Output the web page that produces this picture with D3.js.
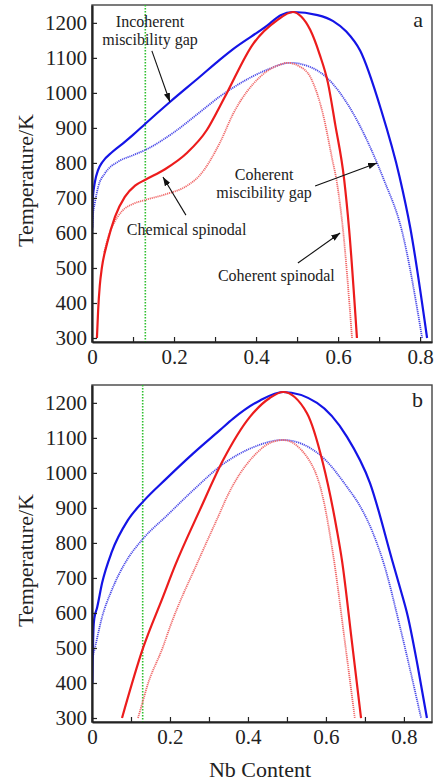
<!DOCTYPE html>
<html>
<head>
<meta charset="utf-8">
<script src="https://cdn.jsdelivr.net/npm/d3@7"></script>
<style>
body{margin:0;background:#fff;}
svg{display:block;}
svg text{font-family:"Liberation Serif","DejaVu Serif","Times New Roman",serif;}
</style>
</head>
<body>
<svg width="436" height="784"></svg>
<script>
// tick values
const yTicks = [300,400,500,600,700,800,900,1000,1100,1200];
const xTicks = [0,0.1,0.2,0.3,0.4,0.5,0.6,0.7,0.8];
const xLabelled = [0,0.2,0.4,0.6,0.8];
const greenX = 0.13;

// panel a : [Nb content, T/K]
const aIncoherent = [[0.0005,615],[0.002,700],[0.007,745],[0.015,780],[0.025,802],[0.05,832],[0.08,860],[0.1,880],[0.13,912],[0.19,974],[0.263,1046],[0.312,1095],[0.344,1125],[0.427,1192],[0.46,1222],[0.49,1231],[0.55,1222],[0.588,1205],[0.62,1175],[0.654,1120],[0.705,951],[0.75,760],[0.776,615],[0.817,300]];
const aCoherentGap = [[0.001,600],[0.002,646],[0.007,686],[0.015,731],[0.032,771],[0.063,803],[0.1,822],[0.13,837],[0.198,886],[0.263,945],[0.312,990],[0.344,1015],[0.427,1066],[0.483,1086],[0.53,1075],[0.573,1043],[0.63,955],[0.695,800],[0.712,751],[0.755,609],[0.805,300]];
const aChemSpinodal = [[0.012,300],[0.015,380],[0.019,450],[0.024,500],[0.037,571],[0.056,646],[0.08,703],[0.105,735],[0.13,752],[0.178,782],[0.232,829],[0.28,894],[0.312,962],[0.329,1000],[0.393,1140],[0.451,1207],[0.49,1231],[0.51,1218],[0.532,1180],[0.555,1110],[0.575,1030],[0.593,910],[0.615,751],[0.627,609],[0.646,300]];
const aCohSpinodal = [[0.03,545],[0.04,590],[0.049,617],[0.073,662],[0.1,683],[0.129,694],[0.178,710],[0.232,735],[0.263,765],[0.312,858],[0.344,940],[0.41,1046],[0.459,1081],[0.476,1086],[0.505,1076],[0.532,1046],[0.563,940],[0.585,815],[0.597,745],[0.612,609],[0.634,300]];

// panel b
const bIncoherent = [[0.001,400],[0.002,480],[0.004,560],[0.006,585],[0.013,615],[0.026,686],[0.051,775],[0.092,865],[0.131,918],[0.192,985],[0.259,1055],[0.328,1122],[0.362,1155],[0.431,1207],[0.49,1231],[0.577,1200],[0.654,1103],[0.713,971],[0.77,750],[0.79,672],[0.81,590],[0.835,450],[0.859,300]];
const bCoherentGap = [[0.001,470],[0.008,503],[0.026,589],[0.051,666],[0.085,743],[0.131,812],[0.192,878],[0.259,950],[0.336,1025],[0.413,1073],[0.49,1094],[0.585,1051],[0.654,960],[0.69,900],[0.72,830],[0.75,735],[0.79,560],[0.844,300]];
const bChemSpinodal = [[0.077,300],[0.131,500],[0.182,646],[0.213,735],[0.277,895],[0.336,1036],[0.405,1160],[0.456,1214],[0.49,1231],[0.551,1171],[0.592,1029],[0.628,837],[0.641,751],[0.667,514],[0.69,300]];
const bCohSpinodal = [[0.118,300],[0.131,350],[0.141,389],[0.182,503],[0.2,560],[0.277,760],[0.328,886],[0.346,931],[0.413,1046],[0.464,1089],[0.49,1094],[0.551,1046],[0.592,931],[0.62,755],[0.649,514],[0.674,300]];

const svg = d3.select("svg");
const serif = '"Liberation Serif","DejaVu Serif","Times New Roman",serif';

svg.append("defs").append("marker")
	.attr("id","arr")
	.attr("markerUnits","userSpaceOnUse")
	.attr("viewBox","0 0 10 7")
	.attr("markerWidth",9).attr("markerHeight",6.5)
	.attr("refX",10).attr("refY",3.5)
	.attr("orient","auto")
	.append("path").attr("d","M0,0L10,3.5L0,7z").attr("fill","#111");

const styles = {
	inc:   {stroke:"#1414e6", width:2.2, dash:null},
	cgap:  {stroke:"#4c4ce8", width:1.8, dash:"1.2,0.8"},
	chem:  {stroke:"#ec1c1c", width:2.2, dash:null},
	cspin: {stroke:"#f06a6a", width:1.8, dash:"1.2,0.8"}
};

class Panel{
	constructor(id, box, xmax, letter){
		this.box = box;
		this.x = d3.scaleLinear().domain([0, xmax]).range([box.left, box.right]);
		this.y = d3.scaleLinear().domain([288.6, 1251]).range([box.bottom, box.top]);
		this.g = svg.append("g").attr("class","panel-"+id);

		this.g.append("clipPath").attr("id","clip-"+id)
			.append("rect")
			.attr("x",box.left).attr("y",box.top)
			.attr("width",box.right-box.left).attr("height",box.bottom-box.top);

		this.g.append("rect")
			.attr("x",box.left).attr("y",box.top)
			.attr("width",box.right-box.left).attr("height",box.bottom-box.top)
			.attr("fill","none").attr("stroke","#444").attr("stroke-width",1.4);

		this.plot = this.g.append("g").attr("clip-path",`url(#clip-${id})`);

		// green marker line
		this.plot.append("line")
			.attr("x1",this.x(greenX)).attr("x2",this.x(greenX))
			.attr("y1",box.top).attr("y2",box.bottom)
			.attr("stroke","#2fbf2f").attr("stroke-width",1.6)
			.attr("stroke-dasharray","1.6,1.4");

		this.axes();

		this.g.append("text")
			.attr("x",box.right-9).attr("y",box.top+22)
			.attr("text-anchor","end")
			.attr("font-size",22).attr("fill","#222")
			.text(letter);

		this.g.append("text")
			.attr("transform",`translate(33,${(box.top+box.bottom)/2+7}) rotate(-90)`)
			.attr("text-anchor","middle")
			.attr("font-size",22).attr("fill","#222")
			.text("Temperature/K");
	}
	axes(){
		let yAxis = d3.axisLeft(this.y)
			.tickValues(yTicks)
			.tickFormat(d3.format("d"))
			.tickSizeInner(-5).tickSizeOuter(0).tickPadding(5);
		let xAxis = d3.axisBottom(this.x)
			.tickValues(xTicks)
			.tickSizeInner(-5).tickSizeOuter(0).tickPadding(7)
			.tickFormat(d => xLabelled.some(v => Math.abs(v-d) < 1e-9) ? (d === 0 ? "0" : d.toFixed(1)) : "");

		let ya = this.g.append("g")
			.attr("transform",`translate(${this.box.left},0)`)
			.call(yAxis);
		let xa = this.g.append("g")
			.attr("transform",`translate(0,${this.box.bottom})`)
			.call(xAxis);
		[ya, xa].forEach(a => {
			a.attr("font-family",null).attr("font-size",null);
			a.select(".domain").attr("stroke","#222").attr("stroke-width",2.2);
			a.selectAll(".tick line").attr("stroke","#222").attr("stroke-width",1.2);
			a.selectAll(".tick text")
				.style("font-family",serif)
				.style("font-size","21px")
				.attr("fill","#222");
		});
	}
	curve(data, key){
		let st = styles[key];
		let line = d3.line()
			.x(d => this.x(d[0]))
			.y(d => this.y(d[1]))
			.curve(d3.curveMonotoneX);
		this.plot.append("path")
			.datum(data)
			.attr("d",line)
			.attr("fill","none")
			.attr("stroke",st.stroke)
			.attr("stroke-width",st.width)
			.attr("stroke-dasharray",st.dash)
			.attr("stroke-linejoin","round");
	}
	note(lines, at, anchor){
		let t = this.g.append("text")
			.attr("x",this.x(at[0])).attr("y",this.y(at[1]))
			.attr("text-anchor",anchor)
			.attr("font-size",16).attr("fill","#222");
		lines.forEach((s,i) => {
			t.append("tspan")
				.attr("x",this.x(at[0]))
				.attr("dy",i ? "1.15em" : 0)
				.text(s);
		});
	}
	arrow(from, to){
		this.g.append("line")
			.attr("x1",this.x(from[0])).attr("y1",this.y(from[1]))
			.attr("x2",this.x(to[0])).attr("y2",this.y(to[1]))
			.attr("stroke","#111").attr("stroke-width",1.1)
			.attr("marker-end","url(#arr)");
	}
}

let pa = new Panel("a", {left:92, top:5, right:432, bottom:342}, 0.829, "a");
pa.curve(aCoherentGap,"cgap");
pa.curve(aCohSpinodal,"cspin");
pa.curve(aIncoherent,"inc");
pa.curve(aChemSpinodal,"chem");

pa.note(["Incoherent","miscibility gap"], [0.1415,1189], "middle");
pa.arrow([0.146,1120],[0.19,974]);
pa.note(["Coherent","miscibility gap"], [0.4195,751], "middle");
pa.arrow([0.544,734],[0.695,800]);
pa.note(["Chemical spinodal"], [0.085,594], "start");
pa.arrow([0.229,651],[0.173,760]);
pa.note(["Coherent spinodal"], [0.307,463], "start");
pa.arrow([0.502,514],[0.605,600]);

let pb = new Panel("b", {left:92, top:385, right:432, bottom:722}, 0.872, "b");
pb.curve(bCoherentGap,"cgap");
pb.curve(bCohSpinodal,"cspin");
pb.curve(bIncoherent,"inc");
pb.curve(bChemSpinodal,"chem");

svg.append("text")
	.attr("x",260).attr("y",777)
	.attr("text-anchor","middle")
	.attr("font-size",22).attr("fill","#222")
	.text("Nb Content");
</script>
</body>
</html>
